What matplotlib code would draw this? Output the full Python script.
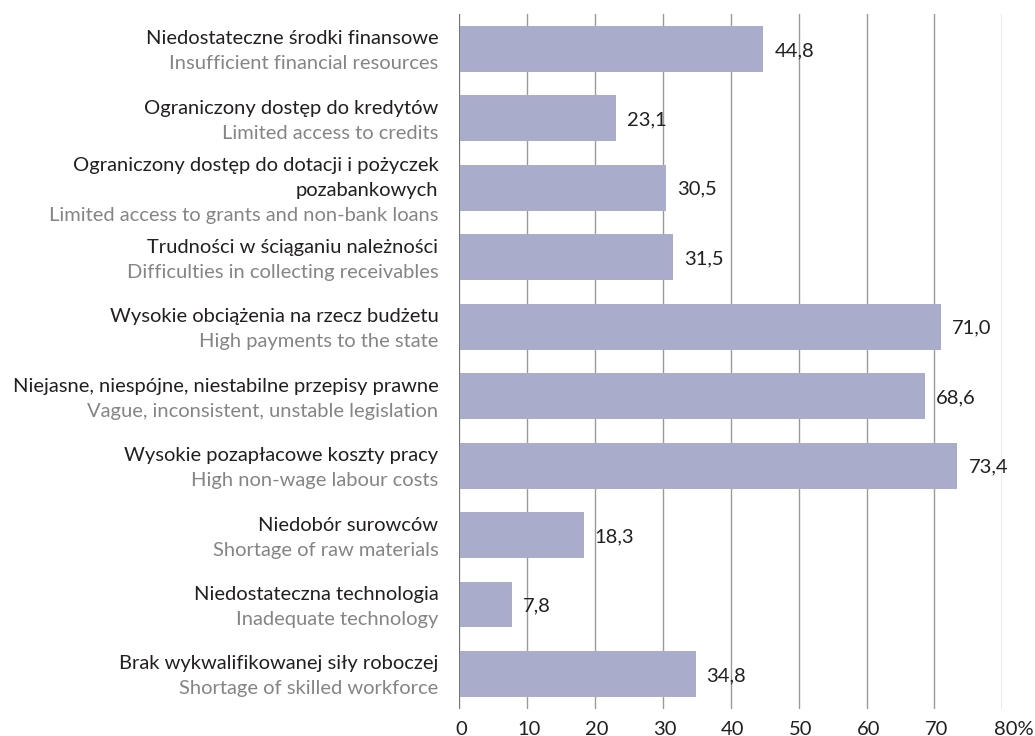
import matplotlib.pyplot as plt

plt.rcParams['font.family'] = ['Lato', 'DejaVu Sans']

# Barriers to business activity, % of answers
labels_pl = [
    'Niedostateczne środki finansowe',
    'Ograniczony dostęp do kredytów',
    'Ograniczony dostęp do dotacji i pożyczek\npozabankowych',
    'Trudności w ściąganiu należności',
    'Wysokie obciążenia na rzecz budżetu',
    'Niejasne, niespójne, niestabilne przepisy prawne',
    'Wysokie pozapłacowe koszty pracy',
    'Niedobór surowców',
    'Niedostateczna technologia',
    'Brak wykwalifikowanej siły roboczej',
]
labels_en = [
    'Insufficient financial resources',
    'Limited access to credits',
    'Limited access to grants and non-bank loans',
    'Difficulties in collecting receivables',
    'High payments to the state',
    'Vague, inconsistent, unstable legislation',
    'High non-wage labour costs',
    'Shortage of raw materials',
    'Inadequate technology',
    'Shortage of skilled workforce',
]
values = [44.8, 23.1, 30.5, 31.5, 71.0, 68.6, 73.4, 18.3, 7.8, 34.8]
x_ticks = [0, 10, 20, 30, 40, 50, 60, 70, 80]
x_tick_labels = ['0', '10', '20', '30', '40', '50', '60', '70', '80%']

BAR = '#a9acca'
DARK = '#231f20'
GREY = '#858585'
FS = 14.5

fig = plt.figure(figsize=(10.35, 7.36), dpi=100)
ax = fig.add_axes([0.4438, 0.0371, 0.5246, 0.9436])

ypos = list(range(len(values)))
ax.barh(ypos, values, height=0.66, color=BAR, zorder=2)

ax.set_xlim(0, 80)
ax.set_ylim(len(values) - 0.5, -0.5)
ax.set_xticks(x_ticks)
ax.grid(axis='x', color='#9a9a9a', lw=1, zorder=0)
ax.axvline(0, color='#6a6a6a', lw=1.2, zorder=3)
ax.tick_params(length=0, labelbottom=False, labelleft=False)
for s in ax.spines.values():
    s.set_visible(False)

# x tick labels below the grid
for t, lab in zip(x_ticks, x_tick_labels):
    if lab.endswith('%'):
        ax.annotate(lab, (t, 0), xycoords=ax.get_xaxis_transform(),
                    xytext=(-8, -26), textcoords='offset pixels',
                    ha='left', va='baseline', fontsize=FS, color=DARK)
    else:
        ax.annotate(lab, (t, 0), xycoords=ax.get_xaxis_transform(),
                    xytext=(2, -26), textcoords='offset pixels',
                    ha='center', va='baseline', fontsize=FS, color=DARK)

# category labels: Polish in dark, English in grey
ytrans = ax.get_yaxis_transform()
for i, (pl, en) in enumerate(zip(labels_pl, labels_en)):
    lines = [(s, DARK) for s in pl.split('\n')] + [(en, GREY)]
    n = len(lines)
    for j, (txt, col) in enumerate(lines):
        dy = (j - (n - 1) / 2) * 25 + 8
        ax.annotate(txt, (0, i), xycoords=ytrans,
                    xytext=(-21, -dy), textcoords='offset pixels',
                    ha='right', va='baseline', fontsize=FS, color=col)

# value labels at bar ends
for i, v in enumerate(values):
    ax.annotate(f'{v:.1f}'.replace('.', ','), (v, i),
                xytext=(11, -7), textcoords='offset pixels',
                ha='left', va='baseline', fontsize=FS, color=DARK)

fig.savefig('out.png', dpi=100)
